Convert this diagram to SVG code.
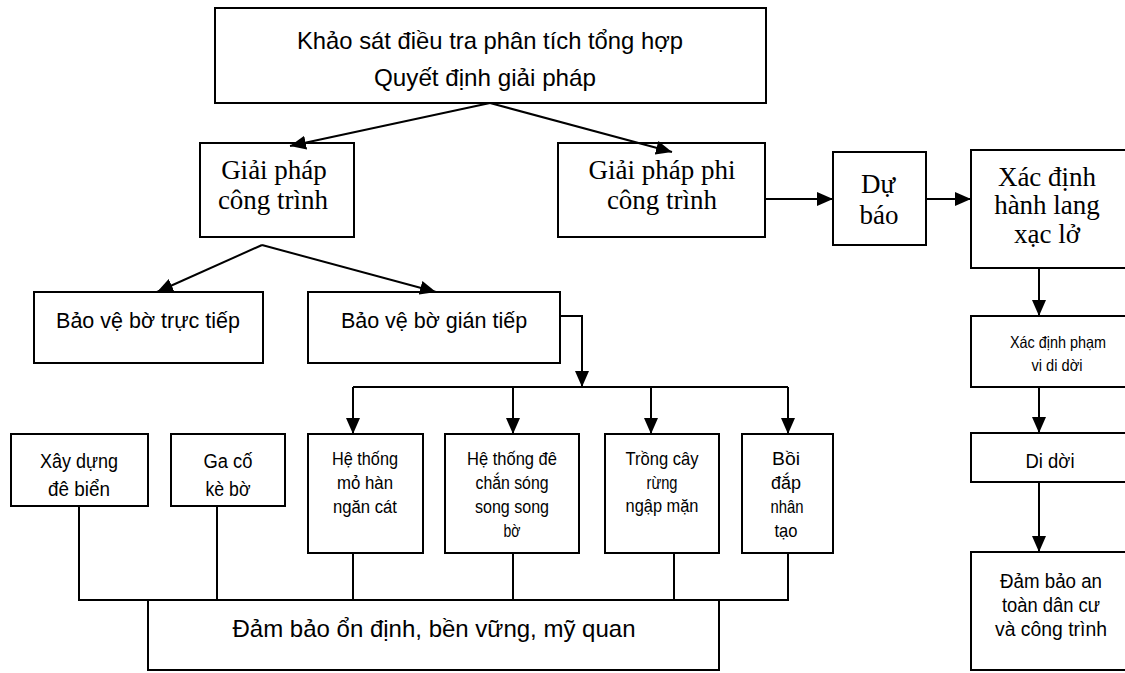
<svg xmlns="http://www.w3.org/2000/svg" width="1125" height="673" viewBox="0 0 1125 673">
<style>
rect{fill:#fff;stroke:#000;stroke-width:2}
.c path,.c line,.c polyline{fill:none;stroke:#000;stroke-width:2}
text{fill:#000;text-anchor:middle}
.s{font-family:"Liberation Sans",Arial,sans-serif}
.t{font-family:"Liberation Serif","Times New Roman",serif;font-size:27px}
.f24{font-size:24px}.f21{font-size:21.5px}.f20{font-size:20.5px}.f19{font-size:19.5px}.f18{font-size:18.5px}.f16{font-size:16.5px}
</style>
<defs>
<marker id="ah" viewBox="0 0 16 14" refX="16" refY="7" markerWidth="16" markerHeight="14" markerUnits="userSpaceOnUse" orient="auto">
<path d="M0,0 L16,7 L0,14 z" fill="#000"/>
</marker>
</defs>
<rect x="0" y="0" width="1125" height="673" style="stroke:none"/>

<g id="n-khaosat">
<rect x="215" y="8" width="551" height="95"/>
<text class="s f24" x="490" y="49" textLength="386" lengthAdjust="spacingAndGlyphs">Khảo sát điều tra phân tích tổng hợp</text>
<text class="s f24" x="485" y="86" textLength="222" lengthAdjust="spacingAndGlyphs">Quyết định giải pháp</text>
</g>

<g id="n-gpct">
<rect x="200" y="143" width="154" height="94"/>
<text class="t" x="274" y="179">Giải pháp</text>
<text class="t" x="273" y="209">công trình</text>
</g>

<g id="n-gpphi">
<rect x="558" y="143" width="207" height="94"/>
<text class="t" x="662" y="179">Giải pháp phi</text>
<text class="t" x="662" y="209">công trình</text>
</g>

<g id="n-dubao">
<rect x="833" y="152" width="93" height="93"/>
<text class="t" x="878" y="193">Dự</text>
<text class="t" x="879" y="224">báo</text>
</g>

<g id="n-hanhlang">
<rect x="971" y="150" width="160" height="118"/>
<text class="t" x="1047" y="186">Xác định</text>
<text class="t" x="1047" y="214">hành lang</text>
<text class="t" x="1047" y="243">xạc lở</text>
</g>

<g id="n-phamvi">
<rect x="971" y="316" width="160" height="71"/>
<text class="s f16" x="1058" y="348" textLength="96" lengthAdjust="spacingAndGlyphs">Xác định phạm</text>
<text class="s f16" x="1057" y="371" textLength="51" lengthAdjust="spacingAndGlyphs">vi di dời</text>
</g>

<g id="n-didoi">
<rect x="971" y="433" width="160" height="49"/>
<text class="s f20" x="1050" y="468" textLength="49" lengthAdjust="spacingAndGlyphs">Di dời</text>
</g>

<g id="n-antoan">
<rect x="971" y="552" width="160" height="118"/>
<text class="s f20" x="1051" y="588" textLength="102" lengthAdjust="spacingAndGlyphs">Đảm bảo an</text>
<text class="s f20" x="1051" y="612" textLength="98" lengthAdjust="spacingAndGlyphs">toàn dân cư</text>
<text class="s f20" x="1051" y="636" textLength="112" lengthAdjust="spacingAndGlyphs">và công trình</text>
</g>

<g id="n-tructiep">
<rect x="34" y="292" width="229" height="71"/>
<text class="s f21" x="148" y="328">Bảo vệ bờ trực tiếp</text>
</g>

<g id="n-giantiep">
<rect x="308" y="292" width="252" height="71"/>
<text class="s f21" x="434" y="328">Bảo vệ bờ gián tiếp</text>
</g>

<g id="n-debien">
<rect x="11" y="434" width="137" height="72"/>
<text class="s f19" x="79" y="468" textLength="78" lengthAdjust="spacingAndGlyphs">Xây dựng</text>
<text class="s f19" x="79" y="496" textLength="62" lengthAdjust="spacingAndGlyphs">đê biển</text>
</g>

<g id="n-keobo">
<rect x="171" y="434" width="114" height="72"/>
<text class="s f19" x="228" y="468" textLength="49" lengthAdjust="spacingAndGlyphs">Ga cố</text>
<text class="s f19" x="228" y="496" textLength="45" lengthAdjust="spacingAndGlyphs">kè bờ</text>
</g>

<g id="n-mohan">
<rect x="308" y="434" width="115" height="119"/>
<text class="s f18" x="365" y="465" textLength="66" lengthAdjust="spacingAndGlyphs">Hệ thống</text>
<text class="s f18" x="365" y="489" textLength="56" lengthAdjust="spacingAndGlyphs">mỏ hàn</text>
<text class="s f18" x="365" y="513" textLength="64" lengthAdjust="spacingAndGlyphs">ngăn cát</text>
</g>

<g id="n-dechan">
<rect x="445" y="434" width="134" height="119"/>
<text class="s f18" x="512" y="465" textLength="90" lengthAdjust="spacingAndGlyphs">Hệ thống đê</text>
<text class="s f18" x="512" y="489" textLength="73" lengthAdjust="spacingAndGlyphs">chắn sóng</text>
<text class="s f18" x="512" y="513" textLength="74" lengthAdjust="spacingAndGlyphs">song song</text>
<text class="s f18" x="512" y="537" textLength="17" lengthAdjust="spacingAndGlyphs">bờ</text>
</g>

<g id="n-trongcay">
<rect x="605" y="434" width="114" height="119"/>
<text class="s f18" x="662" y="465" textLength="73" lengthAdjust="spacingAndGlyphs">Trồng cây</text>
<text class="s f18" x="662" y="489" textLength="31" lengthAdjust="spacingAndGlyphs">rừng</text>
<text class="s f18" x="662" y="512" textLength="73" lengthAdjust="spacingAndGlyphs">ngập mặn</text>
</g>

<g id="n-boidap">
<rect x="742" y="434" width="91" height="119"/>
<text class="s f18" x="786" y="465" textLength="28" lengthAdjust="spacingAndGlyphs">Bồi</text>
<text class="s f18" x="786" y="489" textLength="30" lengthAdjust="spacingAndGlyphs">đắp</text>
<text class="s f18" x="787" y="513" textLength="33" lengthAdjust="spacingAndGlyphs">nhân</text>
<text class="s f18" x="786" y="537" textLength="23" lengthAdjust="spacingAndGlyphs">tạo</text>
</g>

<g id="n-ondinh">
<rect x="148" y="600" width="571" height="70"/>
<text class="s f24" x="434" y="637">Đảm bảo ổn định, bền vững, mỹ quan</text>
</g>

<g id="connectors" class="c">
<line x1="490" y1="103" x2="290" y2="146" marker-end="url(#ah)"/>
<line x1="490" y1="103" x2="672" y2="152" marker-end="url(#ah)"/>
<line x1="262" y1="245" x2="157" y2="292" marker-end="url(#ah)"/>
<line x1="262" y1="245" x2="436" y2="292" marker-end="url(#ah)"/>
<line x1="765" y1="199" x2="833" y2="199" marker-end="url(#ah)"/>
<line x1="926" y1="199" x2="971" y2="199" marker-end="url(#ah)"/>
<line x1="1039" y1="268" x2="1039" y2="316" marker-end="url(#ah)"/>
<line x1="1039" y1="387" x2="1039" y2="433" marker-end="url(#ah)"/>
<line x1="1039" y1="482" x2="1039" y2="552" marker-end="url(#ah)"/>
<polyline points="560,316 582,316 582,387" marker-end="url(#ah)"/>
<line x1="353" y1="387" x2="788" y2="387"/>
<line x1="353" y1="387" x2="353" y2="434" marker-end="url(#ah)"/>
<line x1="513" y1="387" x2="513" y2="434" marker-end="url(#ah)"/>
<line x1="651" y1="387" x2="651" y2="434" marker-end="url(#ah)"/>
<line x1="788" y1="387" x2="788" y2="434" marker-end="url(#ah)"/>
<line x1="79" y1="506" x2="79" y2="600"/>
<line x1="217" y1="506" x2="217" y2="600"/>
<line x1="353" y1="553" x2="353" y2="600"/>
<line x1="513" y1="553" x2="513" y2="600"/>
<line x1="674" y1="553" x2="674" y2="600"/>
<line x1="788" y1="553" x2="788" y2="600"/>
<line x1="78" y1="600" x2="789" y2="600"/>
</g>
</svg>
